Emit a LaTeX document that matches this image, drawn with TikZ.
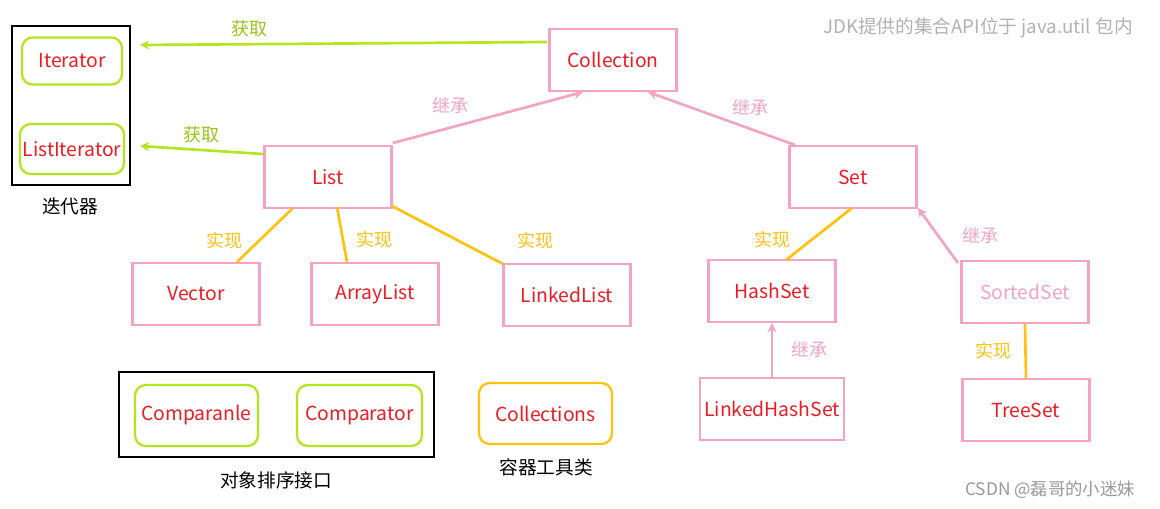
\documentclass[tikz,border=0pt]{standalone}
\usepackage{fontspec}
\setmainfont{Noto Sans CJK SC}
\definecolor{gr}{HTML}{B5E61D}
\definecolor{pk}{HTML}{F5A3C3}
\definecolor{yo}{HTML}{FFC20E}
\definecolor{rd}{HTML}{ED1C24}
\begin{document}
\begin{tikzpicture}[x=0.75pt,y=-0.75pt,
 bx/.style={draw=pk,line width=1.7pt,minimum width=127*0.75pt,minimum height=62*0.75pt,text=rd,font=\fontsize{14.5}{16}\selectfont},
 gb/.style={draw=gr,line width=1.7pt,rounded corners=8pt,text=rd,font=\fontsize{14.5}{16}\selectfont,inner sep=0pt},
 ga/.style={draw=gr,line width=2pt,-stealth},
 pa/.style={draw=pk,line width=2pt,-stealth},
 ol/.style={draw=yo,line width=2pt},
 gl/.style={text=gr!85!black,font=\fontsize{13.5}{15}\selectfont},
 pl/.style={text=pk,font=\fontsize{13.5}{15}\selectfont},
 ylab/.style={text=yo,font=\fontsize{13.5}{15}\selectfont}]
\useasboundingbox (0,0) rectangle (1160,508);
\fill[white] (0,0) rectangle (1160,508);
\node[bx] (coll) at (613,60) {Collection};
\node[bx] (list) at (328,177) {List};
\node[bx] (set) at (853,177) {Set};
\node[bx] (vec) at (196,294) {Vector};
\node[bx] (al) at (375,294) {ArrayList};
\node[bx] (ll) at (567,295) {LinkedList};
\node[bx] (hs) at (772,291) {HashSet};
\node[bx,text=pk] (ss) at (1025,292) {SortedSet};
\node[bx] (lhs) at (772,409) {LinkedHashSet};
\node[bx] (ts) at (1026,410) {TreeSet};
\node[gb,minimum width=100*0.75pt,minimum height=47*0.75pt] (it) at (72,61) {Iterator};
\node[gb,minimum width=104*0.75pt,minimum height=50*0.75pt] (lit) at (72,149) {ListIterator};
\node[draw,line width=1.7pt,minimum width=118*0.75pt,minimum height=159*0.75pt] (ib) at (71,105.5) {};
\node[font=\fontsize{14}{15}\selectfont] (itl) at (70,206) {迭代器};
\node[draw,line width=1.7pt,minimum width=315*0.75pt,minimum height=85*0.75pt] (cb) at (276.5,414.5) {};
\node[gb,minimum width=123*0.75pt,minimum height=61*0.75pt] (cp1) at (196.5,415.5) {Comparanle};
\node[gb,minimum width=125*0.75pt,minimum height=61*0.75pt] (cp2) at (359.5,415.5) {Comparator};
\node[font=\fontsize{14}{15}\selectfont] (cbl) at (276,480) {对象排序接口};
\node[gb,draw=yo,minimum width=133*0.75pt,minimum height=61*0.75pt] (cs) at (545.5,413.5) {Collections};
\node[font=\fontsize{14}{15}\selectfont] (csl) at (546,467) {容器工具类};
\node[text=gray!60,font=\fontsize{14}{15}\selectfont] (hd) at (978,28) {JDK提供的集合API位于 java.util 包内};
\node[text=gray!80,font=\fontsize{13}{14}\selectfont] (wm) at (1050,490) {CSDN @磊哥的小迷妹};
\coordinate (s1) at (547,42); \coordinate (a1) at (140,45);
\coordinate (s2) at (263,154); \coordinate (a2) at (140,146);
\draw[ga] (s1) -- (a1) node[gl,pos=0.73,above=1pt] {获取};
\draw[ga] (s2) -- (a2) node[gl,pos=0.5,above=1pt] {获取};
\coordinate (p1) at (393,143); \coordinate (q1) at (583,92);
\coordinate (p2) at (795,145); \coordinate (q2) at (648,92);
\coordinate (p3) at (958,263); \coordinate (q3) at (918,208);
\draw[pa] (p1) -- (q1) node[pl,pos=0.3,above=6pt] {继承};
\draw[pa] (p2) -- (q2) node[pl,pos=0.3,above=6pt] {继承};
\draw[pa] (p3) -- (q3) node[pl,pos=0.5,right=14pt] {继承};
\draw[pa] (lhs.north) -- (hs.south) node[pl,midway,right=10pt] {继承};
\coordinate (o1) at (293,208); \coordinate (e1) at (237,262);
\coordinate (o2) at (337,207); \coordinate (e2) at (347,262);
\coordinate (o3) at (392,206); \coordinate (e3) at (503,264);
\coordinate (o4) at (852,208); \coordinate (e4) at (786,260);
\draw[ol] (o1) -- (e1) node[ylab,pos=0.6,left=8pt] {实现};
\draw[ol] (o2) -- (e2) node[ylab,pos=0.6,right=6pt] {实现};
\draw[ol] (o3) -- (e3) node[ylab,pos=0.6,right=40pt] {实现};
\draw[ol] (o4) -- (e4) node[ylab,pos=0.6,left=12pt] {实现};
\draw[ol] (ss.south) -- (ts.north) node[ylab,midway,left=6pt] {实现};
\end{tikzpicture}
\end{document}
